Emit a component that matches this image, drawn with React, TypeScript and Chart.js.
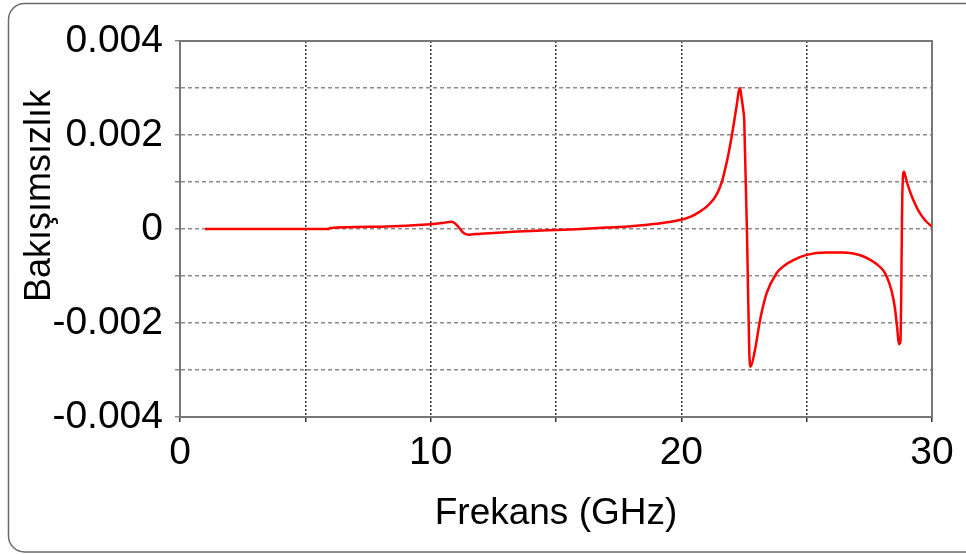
import React, { useEffect, useRef } from "react";
import { Chart, registerables } from "chart.js";

Chart.register(...registerables);

// Frequency (GHz)
const freqGHz = [
  1, 3, 5.9, 6, 8, 10, 10.5, 10.84, 11.1, 11.3, 11.5, 12, 13.3, 14, 15, 16, 17, 18, 19,
  19.94, 20.4, 20.74, 21.0, 21.27, 21.45, 21.61, 21.75, 21.9, 22.05, 22.2, 22.3, 22.34,
  22.4, 22.47,
  22.51, 22.63, 22.71, 22.76, 22.94, 23.14, 23.4, 23.8, 24.1, 24.47, 25.0, 25.8, 26.4,
  26.86, 27.2, 27.52, 27.8, 28.05, 28.2, 28.38, 28.52, 28.62, 28.68, 28.74, 28.82, 28.88,
  28.95, 29.0, 29.12, 29.25, 29.4, 29.55, 29.75, 30,
];

// Bakışımsızlık values
const asymmetry = [
  0, 0, 0, 0.00002, 0.00005, 0.0001, 0.00013, 0.000155, 0.00005, -0.00008, -0.00012,
  -0.0001, -0.00006, -0.00004, -0.00002, 0, 0.00003, 0.00006, 0.00011,
  0.00019, 0.00027, 0.00037, 0.00047, 0.00062, 0.00078, 0.00099, 0.00128, 0.00165, 0.0021,
  0.0026, 0.00295, 0.003,
  0.0028, 0.00253,
  0.0023, -0.0004, -0.0026, -0.00293, -0.00257, -0.00194, -0.00137, -0.00094, -0.00078,
  -0.00066, -0.00055, -0.0005, -0.0005,
  -0.00052, -0.00057, -0.00065, -0.00075, -0.00088, -0.00102, -0.0013, -0.00168, -0.00215,
  -0.00245, -0.0024, 0.0008, 0.00122,
  0.0011, 0.001, 0.0008, 0.00062, 0.00045, 0.00031, 0.00017, 0.00005,
];

const xTickLabels = ["0", "10", "20", "30"];
const yTickValues = [0.004, 0.002, 0, -0.002, -0.004];
const yTickLabels = ["0.004", "0.002", "0", "-0.002", "-0.004"];

const xTitle = "Frekans (GHz)";
const yTitle = "Bakışımsızlık";

const FONT = "'Liberation Sans', Arial, sans-serif";

export default function App() {
  const ref = useRef<HTMLCanvasElement | null>(null);

  useEffect(() => {
    if (!ref.current) return;

    const outerBorder = {
      id: "outerBorder",
      beforeDraw(chart: any) {
        const ctx = chart.ctx;
        ctx.save();
        ctx.fillStyle = "#ffffff";
        ctx.fillRect(0, 0, chart.width, chart.height);
        ctx.strokeStyle = "#6a6a6a";
        ctx.lineWidth = 1.5;
        ctx.beginPath();
        (ctx as any).roundRect(8.5, 3.5, 1000, 548.5, 16);
        ctx.stroke();
        ctx.restore();
      },
    };

    const frame = {
      id: "frame",
      beforeDatasetsDraw(chart: any) {
        const { ctx, chartArea } = chart;
        ctx.save();
        ctx.strokeStyle = "#777777";
        ctx.lineWidth = 2;
        ctx.strokeRect(
          chartArea.left,
          chartArea.top,
          chartArea.right - chartArea.left,
          chartArea.bottom - chartArea.top
        );
        ctx.restore();
      },
    };

    const yTitlePlugin = {
      id: "yTitle",
      afterDraw(chart: any) {
        const ctx = chart.ctx;
        ctx.save();
        ctx.translate(50, 196);
        ctx.rotate(-Math.PI / 2);
        ctx.font = `36px ${FONT}`;
        ctx.fillStyle = "#000000";
        ctx.textAlign = "center";
        ctx.textBaseline = "alphabetic";
        ctx.fillText(yTitle, 0, 0);
        ctx.restore();
      },
    };

    const chart = new Chart(ref.current, {
      type: "line",
      data: {
        datasets: [
          {
            data: freqGHz.map((f, i) => ({ x: f, y: asymmetry[i] })),
            borderColor: "#ff0000",
            borderWidth: 2.5,
            pointRadius: 0,
            cubicInterpolationMode: "monotone",
            fill: false,
          },
        ],
      },
      options: {
        animation: false,
        responsive: false,
        devicePixelRatio: 1,
        layout: { padding: { left: 0, right: 34, top: 41, bottom: 18 } },
        plugins: {
          legend: { display: false },
          tooltip: { enabled: false },
        },
        scales: {
          x: {
            type: "linear",
            min: 0,
            max: 30,
            afterFit(scale: any) {
              scale.height = 554 - 417 - 18;
            },
            ticks: {
              stepSize: 5,
              autoSkip: false,
              maxRotation: 0,
              padding: 8,
              color: "#000000",
              font: { family: FONT, size: 39 },
              callback: (v: any) => {
                const s = String(Math.round(Number(v)));
                return xTickLabels.includes(s) ? s : "";
              },
            },
            grid: {
              color: "#333333",
              lineWidth: 1.5,
              tickLength: 5,
            },
            border: { display: true, color: "#777777", width: 2, dash: [2, 2] },
            title: {
              display: true,
              text: xTitle,
              color: "#000000",
              font: { family: FONT, size: 37 },
              padding: { top: 0, bottom: 0 },
            },
          },
          y: {
            type: "linear",
            min: -0.004,
            max: 0.004,
            afterFit(scale: any) {
              scale.width = 180;
            },
            ticks: {
              stepSize: 0.001,
              autoSkip: false,
              padding: 12,
              color: "#000000",
              font: { family: FONT, size: 39 },
              callback: (v: any) => {
                const n = Number(v);
                const idx = yTickValues.findIndex((t) => Math.abs(t - n) < 1e-9);
                return idx >= 0 ? yTickLabels[idx] : "";
              },
            },
            grid: {
              color: "#8a8a8a",
              lineWidth: 1.5,
              tickLength: 5,
            },
            border: { display: true, color: "#777777", width: 2, dash: [4, 3] },
          },
        },
      },
      plugins: [outerBorder, frame, yTitlePlugin],
    } as any);

    return () => chart.destroy();
  }, []);

  return (
    <div style={{ position: "fixed", left: 0, top: 0, width: 966, height: 554, background: "#fff" }}>
      <canvas ref={ref} width={966} height={554} style={{ display: "block" }} />
    </div>
  );
}
